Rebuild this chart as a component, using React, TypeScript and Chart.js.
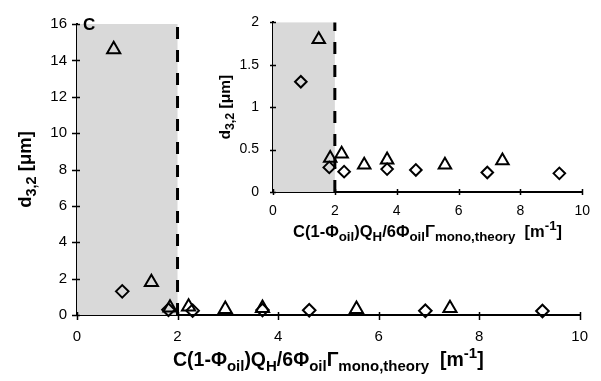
import React, { useEffect, useRef } from 'react';
import { Chart, registerables } from 'chart.js';

Chart.register(...registerables);

// Measured droplet sizes d3,2 [µm] against the coverage parameter
const triX = [0.73, 1.48, 1.85, 2.22, 2.95, 3.69, 5.56, 7.42];
const triY = [14.6, 1.8, 0.4, 0.45, 0.32, 0.38, 0.32, 0.37];
const diaX = [0.9, 1.82, 2.3, 3.69, 4.62, 6.93, 9.26];
const diaY = [1.3, 0.29, 0.24, 0.27, 0.26, 0.23, 0.22];

// Axis ranges and tick spacing
const xMin = 0;
const xMax = 10;
const xStep = 2;
const mainYMax = 16;
const mainYStep = 2;
const insetYMax = 2;
const insetYStep = 0.5;
// Upper limit of the shaded (insufficient emulsifier) region
const shadeLimit = 2;

const panelLabel = 'C';

type Part = { t: string; k?: 'sub' | 'sup' };
const xTitle: Part[] = [
  { t: 'C(1-Φ' },
  { t: 'oil', k: 'sub' },
  { t: ')Q' },
  { t: 'H', k: 'sub' },
  { t: '/6Φ' },
  { t: 'oil', k: 'sub' },
  { t: 'Γ' },
  { t: 'mono,theory', k: 'sub' },
  { t: '  [m' },
  { t: '-1', k: 'sup' },
  { t: ']' },
];
const yTitle: Part[] = [{ t: 'd' }, { t: '3,2', k: 'sub' }, { t: ' [μm]' }];

const FAMILY = '"Liberation Sans", Arial, Helvetica, sans-serif';

function drawRich(
  ctx: CanvasRenderingContext2D,
  parts: Part[],
  cx: number,
  base: number,
  size: number,
  subSize: number,
  rotated: boolean
) {
  const font = (s: number) => `bold ${s}px ${FAMILY}`;
  const widths = parts.map((p) => {
    ctx.font = font(p.k ? subSize : size);
    return ctx.measureText(p.t).width;
  });
  const total = widths.reduce((a, b) => a + b, 0);
  ctx.save();
  ctx.fillStyle = '#000';
  ctx.textBaseline = 'alphabetic';
  ctx.textAlign = 'left';
  if (rotated) {
    ctx.translate(base, cx);
    ctx.rotate(-Math.PI / 2);
  } else {
    ctx.translate(cx, base);
  }
  let x = -total / 2;
  parts.forEach((p, i) => {
    ctx.font = font(p.k ? subSize : size);
    const dy = p.k === 'sub' ? size * 0.27 : p.k === 'sup' ? -size * 0.4 : 0;
    ctx.fillText(p.t, x, dy);
    x += widths[i];
  });
  ctx.restore();
}

type DecorOpts = {
  xTitleSize: number;
  xTitleSub: number;
  xTitleBase: number;
  yTitleSize: number;
  yTitleSub: number;
  yTitleBase: number;
  tickIn: number;
  tickOut: number;
  label?: string;
};

function makeDecor(o: DecorOpts) {
  return {
    id: 'decor',
    beforeDatasetsDraw(chart: any) {
      const { ctx, chartArea: a, scales } = chart;
      const xs = scales.x;
      const x0 = xs.getPixelForValue(xMin);
      const x1 = xs.getPixelForValue(shadeLimit);
      ctx.save();
      ctx.fillStyle = '#d9d9d9';
      ctx.fillRect(x0, a.top, x1 - x0, a.bottom - a.top);
      ctx.strokeStyle = '#000';
      ctx.lineWidth = 3;
      ctx.setLineDash([12, 11]);
      ctx.beginPath();
      ctx.moveTo(x1, a.bottom);
      ctx.lineTo(x1, a.top);
      ctx.stroke();
      ctx.restore();
    },
    afterDraw(chart: any) {
      const { ctx, chartArea: a, scales } = chart;
      ctx.save();
      ctx.strokeStyle = '#000';
      ctx.lineWidth = 1.5;
      ctx.beginPath();
      scales.x.ticks.forEach((t: any) => {
        const px = Math.round(scales.x.getPixelForValue(t.value)) + 0.5;
        ctx.moveTo(px, a.bottom - o.tickIn);
        ctx.lineTo(px, a.bottom + o.tickOut);
      });
      scales.y.ticks.forEach((t: any) => {
        const py = Math.round(scales.y.getPixelForValue(t.value)) + 0.5;
        ctx.moveTo(a.left - o.tickOut, py);
        ctx.lineTo(a.left + o.tickIn, py);
      });
      ctx.stroke();
      ctx.restore();

      const midX = (a.left + a.right) / 2;
      const midY = (a.top + a.bottom) / 2;
      drawRich(ctx, xTitle, midX, o.xTitleBase, o.xTitleSize, o.xTitleSub, false);
      drawRich(ctx, yTitle, midY, o.yTitleBase, o.yTitleSize, o.yTitleSub, true);

      if (o.label) {
        ctx.save();
        ctx.fillStyle = '#000';
        ctx.font = `bold 17px ${FAMILY}`;
        ctx.textBaseline = 'alphabetic';
        ctx.fillText(o.label, a.left + 6, a.top + 6);
        ctx.restore();
      }
    },
  };
}

type PlotCfg = {
  yMax: number;
  yStep: number;
  yWidth: number;
  xHeight: number;
  padding: { left: number; right: number; top: number; bottom: number };
  tickSize: number;
  xPad: number;
  yPad: number;
  triR: number;
  diaR: number;
  decor: DecorOpts;
};

function buildChart(canvas: HTMLCanvasElement, c: PlotCfg) {
  const tri = triX.map((x, i) => ({ x, y: triY[i] }));
  const dia = diaX.map((x, i) => ({ x, y: diaY[i] }));
  return new Chart(canvas, {
    type: 'scatter',
    data: {
      datasets: [
        {
          data: tri,
          pointStyle: 'triangle',
          pointRadius: c.triR,
          pointHoverRadius: c.triR,
          pointBackgroundColor: 'rgba(255,255,255,0)',
          pointBorderColor: '#000',
          pointBorderWidth: 2,
          clip: 10,
        },
        {
          data: dia,
          pointStyle: 'rectRot',
          pointRadius: c.diaR,
          pointHoverRadius: c.diaR,
          pointBackgroundColor: 'rgba(255,255,255,0)',
          pointBorderColor: '#000',
          pointBorderWidth: 2,
          clip: 10,
        },
      ],
    },
    options: {
      responsive: false,
      animation: false,
      devicePixelRatio: 1,
      layout: { padding: c.padding },
      plugins: {
        legend: { display: false },
        tooltip: { enabled: false },
        title: { display: false },
      },
      events: [],
      scales: {
        x: {
          type: 'linear',
          min: xMin,
          max: xMax,
          afterFit: (s: any) => {
            s.height = c.xHeight;
          },
          ticks: {
            stepSize: xStep,
            autoSkip: false,
            maxRotation: 0,
            padding: c.xPad,
            color: '#000',
            font: { family: FAMILY, size: c.tickSize },
            callback: (v: any) => String(v),
          },
          grid: { display: false, drawTicks: false },
          border: { display: true, color: '#000', width: 2 },
        },
        y: {
          type: 'linear',
          min: 0,
          max: c.yMax,
          afterFit: (s: any) => {
            s.width = c.yWidth;
          },
          ticks: {
            stepSize: c.yStep,
            autoSkip: false,
            padding: c.yPad,
            color: '#000',
            font: { family: FAMILY, size: c.tickSize },
            callback: (v: any) => String(v),
          },
          grid: { display: false, drawTicks: false },
          border: { display: true, color: '#000', width: 2 },
        },
      },
    },
    plugins: [makeDecor(c.decor)],
  });
}

export default function App() {
  const mainRef = useRef<HTMLCanvasElement>(null);
  const insetRef = useRef<HTMLCanvasElement>(null);

  useEffect(() => {
    if (!mainRef.current || !insetRef.current) return;
    const main = buildChart(mainRef.current, {
      yMax: mainYMax,
      yStep: mainYStep,
      yWidth: 77,
      xHeight: 66,
      padding: { left: 0, right: 19, top: 24, bottom: 0 },
      tickSize: 15,
      xPad: 13,
      yPad: 10,
      triR: 7.6,
      diaR: 6.3,
      decor: {
        xTitleSize: 19.5,
        xTitleSub: 15,
        xTitleBase: 366,
        yTitleSize: 18.5,
        yTitleSub: 14.5,
        yTitleBase: 31,
        tickIn: 3,
        tickOut: 5,
        label: panelLabel,
      },
    });
    const inset = buildChart(insetRef.current, {
      yMax: insetYMax,
      yStep: insetYStep,
      yWidth: 73,
      xHeight: 58,
      padding: { left: 0, right: 12, top: 13, bottom: 0 },
      tickSize: 14,
      xPad: 11,
      yPad: 14,
      triR: 7.2,
      diaR: 5.8,
      decor: {
        xTitleSize: 16.5,
        xTitleSub: 13.3,
        xTitleBase: 237,
        yTitleSize: 15.5,
        yTitleSub: 12.5,
        yTitleBase: 30,
        tickIn: 3,
        tickOut: 3,
      },
    });
    return () => {
      main.destroy();
      inset.destroy();
    };
  }, []);

  return (
    <div
      style={{
        position: 'absolute',
        left: 0,
        top: 0,
        width: 601,
        height: 381,
        background: '#fff',
        overflow: 'hidden',
      }}
    >
      <canvas
        ref={mainRef}
        width={601}
        height={381}
        style={{ position: 'absolute', left: 0, top: 0, width: 601, height: 381 }}
      />
      <canvas
        ref={insetRef}
        width={401}
        height={250}
        style={{ position: 'absolute', left: 200, top: 0, width: 401, height: 250 }}
      />
    </div>
  );
}
